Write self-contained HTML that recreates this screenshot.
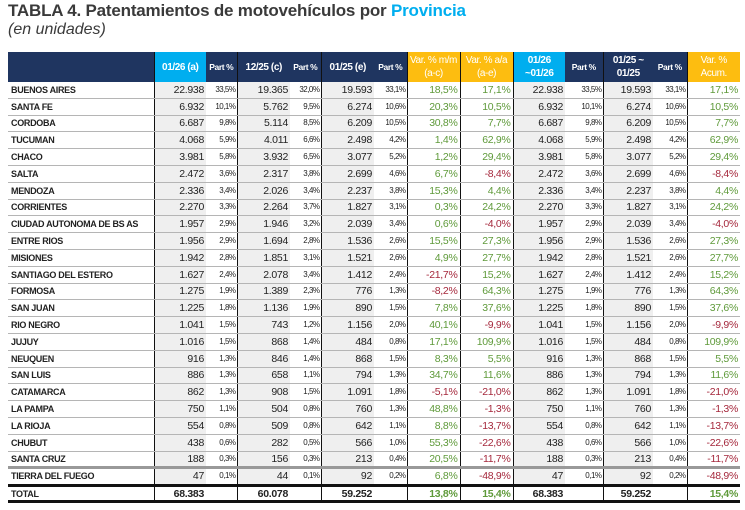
<!DOCTYPE html>
<html><head><meta charset="utf-8"><style>
body{margin:0;width:745px;height:510px;background:#fff;position:relative;overflow:hidden;font-family:"Liberation Sans",sans-serif;}
.t1{position:absolute;left:8px;top:1px;font:bold 17px "Liberation Sans",sans-serif;color:#3a3a3a;white-space:nowrap;letter-spacing:-0.2px}
.t1 span{color:#00aeef}
.t2{position:absolute;left:8px;top:21px;font:italic 16px "Liberation Sans",sans-serif;color:#3a3a3a}
table{position:absolute;left:8px;top:52px;border-collapse:collapse;table-layout:fixed;width:732px}
th{background:#1f3560;color:#fff;font-size:10px;height:30px;padding:0;line-height:13px;font-weight:bold;white-space:nowrap;letter-spacing:-0.4px;overflow:hidden}
th.c{background:#00aeef}th.y{background:#fdbd10;font-weight:normal}
th.p{font-size:8.5px}
td{height:15.8px;line-height:12px;padding:0 2px;font-size:10.5px;color:#222;text-align:right;border-bottom:1px solid #b5b5b5;white-space:nowrap;overflow:hidden;letter-spacing:-0.3px}
td.n{text-align:left;padding-left:3px;font-weight:bold;color:#222;font-size:9px;letter-spacing:-0.3px}
td.v{background:#efefef}
td.p{font-size:8px;padding-right:1px;letter-spacing:-0.5px}
td.g{color:#5f9a3a}td.r{color:#a5283c}
.L{border-left:1px solid #111}
tr.tot td{border-top:3px solid #111;border-bottom:3px solid #111;font-weight:bold;height:13px;background:#fff}
tr.thick td{border-bottom:3px solid #999;height:14px}
</style></head><body>
<div class="t1">TABLA 4. Patentamientos de motovehículos por <span>Provincia</span></div>
<div class="t2">(en unidades)</div>
<table>
<colgroup><col style="width:146px"><col style="width:52px"><col style="width:31px"><col style="width:53px"><col style="width:31px"><col style="width:53px"><col style="width:33px"><col style="width:53px"><col style="width:53px"><col style="width:52px"><col style="width:38px"><col style="width:50px"><col style="width:34px"><col style="width:53px"></colgroup>
<tr><th></th><th class="c L">01/26 (a)</th><th class="p">Part %</th><th class="L">12/25 (c)</th><th class="p">Part %</th><th class="L">01/25 (e)</th><th class="p">Part %</th><th class="y L">Var. % m/m<br>(a-c)</th><th class="y L">Var. % a/a<br>(a-e)</th><th class="c L">01/26<br>~01/26</th><th class="p">Part %</th><th class="L">01/25 ~<br>01/25</th><th class="p">Part %</th><th class="y L">Var. %<br>Acum.</th></tr>
<tr><td class="n">BUENOS AIRES</td><td class="v L">22.938</td><td class="p">33,5%</td><td class="v L">19.365</td><td class="p">32,0%</td><td class="v L">19.593</td><td class="p">33,1%</td><td class="g L">18,5%</td><td class="g L">17,1%</td><td class="v L">22.938</td><td class="p">33,5%</td><td class="v L">19.593</td><td class="p">33,1%</td><td class="g L">17,1%</td></tr>
<tr><td class="n">SANTA FE</td><td class="v L">6.932</td><td class="p">10,1%</td><td class="v L">5.762</td><td class="p">9,5%</td><td class="v L">6.274</td><td class="p">10,6%</td><td class="g L">20,3%</td><td class="g L">10,5%</td><td class="v L">6.932</td><td class="p">10,1%</td><td class="v L">6.274</td><td class="p">10,6%</td><td class="g L">10,5%</td></tr>
<tr><td class="n">CORDOBA</td><td class="v L">6.687</td><td class="p">9,8%</td><td class="v L">5.114</td><td class="p">8,5%</td><td class="v L">6.209</td><td class="p">10,5%</td><td class="g L">30,8%</td><td class="g L">7,7%</td><td class="v L">6.687</td><td class="p">9,8%</td><td class="v L">6.209</td><td class="p">10,5%</td><td class="g L">7,7%</td></tr>
<tr><td class="n">TUCUMAN</td><td class="v L">4.068</td><td class="p">5,9%</td><td class="v L">4.011</td><td class="p">6,6%</td><td class="v L">2.498</td><td class="p">4,2%</td><td class="g L">1,4%</td><td class="g L">62,9%</td><td class="v L">4.068</td><td class="p">5,9%</td><td class="v L">2.498</td><td class="p">4,2%</td><td class="g L">62,9%</td></tr>
<tr><td class="n">CHACO</td><td class="v L">3.981</td><td class="p">5,8%</td><td class="v L">3.932</td><td class="p">6,5%</td><td class="v L">3.077</td><td class="p">5,2%</td><td class="g L">1,2%</td><td class="g L">29,4%</td><td class="v L">3.981</td><td class="p">5,8%</td><td class="v L">3.077</td><td class="p">5,2%</td><td class="g L">29,4%</td></tr>
<tr><td class="n">SALTA</td><td class="v L">2.472</td><td class="p">3,6%</td><td class="v L">2.317</td><td class="p">3,8%</td><td class="v L">2.699</td><td class="p">4,6%</td><td class="g L">6,7%</td><td class="r L">-8,4%</td><td class="v L">2.472</td><td class="p">3,6%</td><td class="v L">2.699</td><td class="p">4,6%</td><td class="r L">-8,4%</td></tr>
<tr><td class="n">MENDOZA</td><td class="v L">2.336</td><td class="p">3,4%</td><td class="v L">2.026</td><td class="p">3,4%</td><td class="v L">2.237</td><td class="p">3,8%</td><td class="g L">15,3%</td><td class="g L">4,4%</td><td class="v L">2.336</td><td class="p">3,4%</td><td class="v L">2.237</td><td class="p">3,8%</td><td class="g L">4,4%</td></tr>
<tr><td class="n">CORRIENTES</td><td class="v L">2.270</td><td class="p">3,3%</td><td class="v L">2.264</td><td class="p">3,7%</td><td class="v L">1.827</td><td class="p">3,1%</td><td class="g L">0,3%</td><td class="g L">24,2%</td><td class="v L">2.270</td><td class="p">3,3%</td><td class="v L">1.827</td><td class="p">3,1%</td><td class="g L">24,2%</td></tr>
<tr><td class="n">CIUDAD AUTONOMA DE BS AS</td><td class="v L">1.957</td><td class="p">2,9%</td><td class="v L">1.946</td><td class="p">3,2%</td><td class="v L">2.039</td><td class="p">3,4%</td><td class="g L">0,6%</td><td class="r L">-4,0%</td><td class="v L">1.957</td><td class="p">2,9%</td><td class="v L">2.039</td><td class="p">3,4%</td><td class="r L">-4,0%</td></tr>
<tr><td class="n">ENTRE RIOS</td><td class="v L">1.956</td><td class="p">2,9%</td><td class="v L">1.694</td><td class="p">2,8%</td><td class="v L">1.536</td><td class="p">2,6%</td><td class="g L">15,5%</td><td class="g L">27,3%</td><td class="v L">1.956</td><td class="p">2,9%</td><td class="v L">1.536</td><td class="p">2,6%</td><td class="g L">27,3%</td></tr>
<tr><td class="n">MISIONES</td><td class="v L">1.942</td><td class="p">2,8%</td><td class="v L">1.851</td><td class="p">3,1%</td><td class="v L">1.521</td><td class="p">2,6%</td><td class="g L">4,9%</td><td class="g L">27,7%</td><td class="v L">1.942</td><td class="p">2,8%</td><td class="v L">1.521</td><td class="p">2,6%</td><td class="g L">27,7%</td></tr>
<tr><td class="n">SANTIAGO DEL ESTERO</td><td class="v L">1.627</td><td class="p">2,4%</td><td class="v L">2.078</td><td class="p">3,4%</td><td class="v L">1.412</td><td class="p">2,4%</td><td class="r L">-21,7%</td><td class="g L">15,2%</td><td class="v L">1.627</td><td class="p">2,4%</td><td class="v L">1.412</td><td class="p">2,4%</td><td class="g L">15,2%</td></tr>
<tr><td class="n">FORMOSA</td><td class="v L">1.275</td><td class="p">1,9%</td><td class="v L">1.389</td><td class="p">2,3%</td><td class="v L">776</td><td class="p">1,3%</td><td class="r L">-8,2%</td><td class="g L">64,3%</td><td class="v L">1.275</td><td class="p">1,9%</td><td class="v L">776</td><td class="p">1,3%</td><td class="g L">64,3%</td></tr>
<tr><td class="n">SAN JUAN</td><td class="v L">1.225</td><td class="p">1,8%</td><td class="v L">1.136</td><td class="p">1,9%</td><td class="v L">890</td><td class="p">1,5%</td><td class="g L">7,8%</td><td class="g L">37,6%</td><td class="v L">1.225</td><td class="p">1,8%</td><td class="v L">890</td><td class="p">1,5%</td><td class="g L">37,6%</td></tr>
<tr><td class="n">RIO NEGRO</td><td class="v L">1.041</td><td class="p">1,5%</td><td class="v L">743</td><td class="p">1,2%</td><td class="v L">1.156</td><td class="p">2,0%</td><td class="g L">40,1%</td><td class="r L">-9,9%</td><td class="v L">1.041</td><td class="p">1,5%</td><td class="v L">1.156</td><td class="p">2,0%</td><td class="r L">-9,9%</td></tr>
<tr><td class="n">JUJUY</td><td class="v L">1.016</td><td class="p">1,5%</td><td class="v L">868</td><td class="p">1,4%</td><td class="v L">484</td><td class="p">0,8%</td><td class="g L">17,1%</td><td class="g L">109,9%</td><td class="v L">1.016</td><td class="p">1,5%</td><td class="v L">484</td><td class="p">0,8%</td><td class="g L">109,9%</td></tr>
<tr><td class="n">NEUQUEN</td><td class="v L">916</td><td class="p">1,3%</td><td class="v L">846</td><td class="p">1,4%</td><td class="v L">868</td><td class="p">1,5%</td><td class="g L">8,3%</td><td class="g L">5,5%</td><td class="v L">916</td><td class="p">1,3%</td><td class="v L">868</td><td class="p">1,5%</td><td class="g L">5,5%</td></tr>
<tr><td class="n">SAN LUIS</td><td class="v L">886</td><td class="p">1,3%</td><td class="v L">658</td><td class="p">1,1%</td><td class="v L">794</td><td class="p">1,3%</td><td class="g L">34,7%</td><td class="g L">11,6%</td><td class="v L">886</td><td class="p">1,3%</td><td class="v L">794</td><td class="p">1,3%</td><td class="g L">11,6%</td></tr>
<tr><td class="n">CATAMARCA</td><td class="v L">862</td><td class="p">1,3%</td><td class="v L">908</td><td class="p">1,5%</td><td class="v L">1.091</td><td class="p">1,8%</td><td class="r L">-5,1%</td><td class="r L">-21,0%</td><td class="v L">862</td><td class="p">1,3%</td><td class="v L">1.091</td><td class="p">1,8%</td><td class="r L">-21,0%</td></tr>
<tr><td class="n">LA PAMPA</td><td class="v L">750</td><td class="p">1,1%</td><td class="v L">504</td><td class="p">0,8%</td><td class="v L">760</td><td class="p">1,3%</td><td class="g L">48,8%</td><td class="r L">-1,3%</td><td class="v L">750</td><td class="p">1,1%</td><td class="v L">760</td><td class="p">1,3%</td><td class="r L">-1,3%</td></tr>
<tr><td class="n">LA RIOJA</td><td class="v L">554</td><td class="p">0,8%</td><td class="v L">509</td><td class="p">0,8%</td><td class="v L">642</td><td class="p">1,1%</td><td class="g L">8,8%</td><td class="r L">-13,7%</td><td class="v L">554</td><td class="p">0,8%</td><td class="v L">642</td><td class="p">1,1%</td><td class="r L">-13,7%</td></tr>
<tr><td class="n">CHUBUT</td><td class="v L">438</td><td class="p">0,6%</td><td class="v L">282</td><td class="p">0,5%</td><td class="v L">566</td><td class="p">1,0%</td><td class="g L">55,3%</td><td class="r L">-22,6%</td><td class="v L">438</td><td class="p">0,6%</td><td class="v L">566</td><td class="p">1,0%</td><td class="r L">-22,6%</td></tr>
<tr class="thick"><td class="n">SANTA CRUZ</td><td class="v L">188</td><td class="p">0,3%</td><td class="v L">156</td><td class="p">0,3%</td><td class="v L">213</td><td class="p">0,4%</td><td class="g L">20,5%</td><td class="r L">-11,7%</td><td class="v L">188</td><td class="p">0,3%</td><td class="v L">213</td><td class="p">0,4%</td><td class="r L">-11,7%</td></tr>
<tr><td class="n">TIERRA DEL FUEGO</td><td class="v L">47</td><td class="p">0,1%</td><td class="v L">44</td><td class="p">0,1%</td><td class="v L">92</td><td class="p">0,2%</td><td class="g L">6,8%</td><td class="r L">-48,9%</td><td class="v L">47</td><td class="p">0,1%</td><td class="v L">92</td><td class="p">0,2%</td><td class="r L">-48,9%</td></tr>
<tr class="tot"><td class="n">TOTAL</td><td class="L">68.383</td><td class="p"></td><td class="L">60.078</td><td class="p"></td><td class="L">59.252</td><td class="p"></td><td class="g L">13,8%</td><td class="g L">15,4%</td><td class="L">68.383</td><td class="p"></td><td class="L">59.252</td><td class="p"></td><td class="g L">15,4%</td></tr>
</table>
</body></html>
